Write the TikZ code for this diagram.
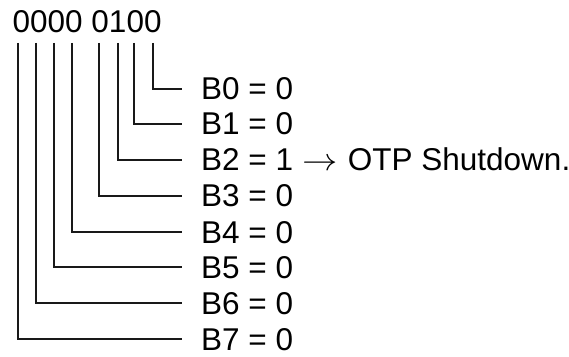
\RequirePackage{fix-cm}
\documentclass[tikz,border=0pt]{standalone}
\usepackage{fontspec}
\setmainfont{Liberation Sans}
\begin{document}
\begin{tikzpicture}[x=1pt,y=1pt,
  bitlabel/.style={anchor=west,inner xsep=0pt,inner ysep=0pt,text height=22pt,text depth=0pt,font=\fontsize{31.5}{36}\selectfont},
  bitline/.style={line width=2.7pt,draw=black!90}]
\useasboundingbox (0,0) rectangle (569,356);
\node[anchor=base west,inner sep=0pt,font=\fontsize{31.5}{36}\selectfont] (word) at (12.5,323) {0000 0100};
% top ends of the bit lines
\coordinate (t0) at (153,313);
\coordinate (t1) at (134,313);
\coordinate (t2) at (118,313);
\coordinate (t3) at (99,313);
\coordinate (t4) at (72,313);
\coordinate (t5) at (54,313);
\coordinate (t6) at (36,313);
\coordinate (t7) at (18,313);
% labels
\node[bitlabel] (b0) at (201,267) {B0 = 0};
\node[bitlabel] (b1) at (201,232) {B1 = 0};
\node[bitlabel] (b2) at (201,196) {B2 = 1 \kern1pt\scalebox{1.12}[1]{$\rightarrow$}\kern1pt\ OTP Shutdown.};
\node[bitlabel] (b3) at (201,160) {B3 = 0};
\node[bitlabel] (b4) at (201,124) {B4 = 0};
\node[bitlabel] (b5) at (201,89) {B5 = 0};
\node[bitlabel] (b6) at (201,53) {B6 = 0};
\node[bitlabel] (b7) at (201,17) {B7 = 0};
\foreach \i in {0,...,7}{
  \draw[bitline] (t\i) |- ([xshift=-19pt]b\i.west);
}
\end{tikzpicture}
\end{document}
